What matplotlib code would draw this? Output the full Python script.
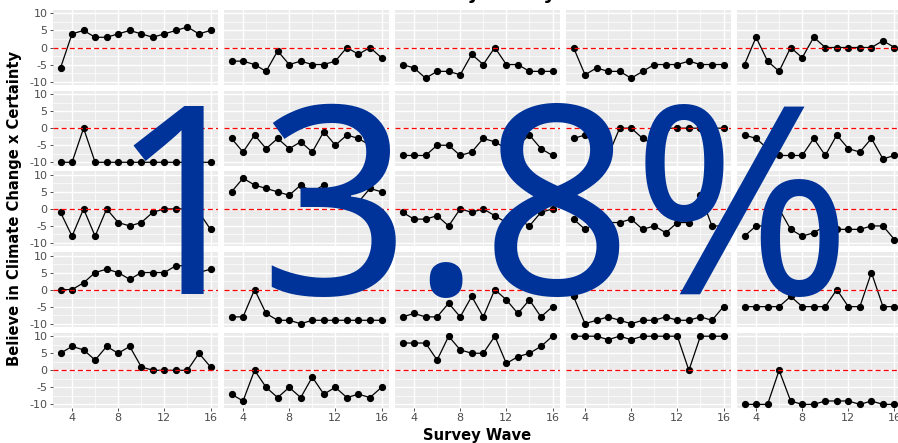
import matplotlib.pyplot as plt
from matplotlib import font_manager as fm
from matplotlib.ticker import MultipleLocator

plt.rcParams['font.family'] = ['DejaVu Sans']
plt.rcParams['axes.unicode_minus'] = False


def pick_font(names):
    # first family that is really installed
    for n in names:
        try:
            fm.findfont(fm.FontProperties(family=n), fallback_to_default=False)
            return n
        except ValueError:
            pass
    return 'DejaVu Sans'


# the local Liberation Sans draws "1" with a foot, Noto Sans does not
big_font = pick_font(['Noto Sans', 'Open Sans', 'Roboto', 'DejaVu Sans'])

# survey waves on the x axis
waves = list(range(3, 17))

# one list per subject, facet order: left to right, top to bottom
s01 = [-6, 4, 5, 3, 3, 4, 5, 4, 3, 4, 5, 6, 4, 5]
s02 = [-4, -4, -5, -7, -1, -5, -4, -5, -5, -4, 0, -2, 0, -3]
s03 = [-5, -6, -9, -7, -7, -8, -2, -5, 0, -5, -5, -7, -7, -7]
s04 = [0, -8, -6, -7, -7, -9, -7, -5, -5, -5, -4, -5, -5, -5]
s05 = [-5, 3, -4, -7, 0, -3, 3, 0, 0, 0, 0, 0, 2, 0]
s06 = [-10, -10, 0, -10, -10, -10, -10, -10, -10, -10, -10, -10, -10, -10]
s07 = [-3, -7, -2, -6, -3, -6, -4, -7, -1, -5, -2, -3, -5, -2]
s08 = [-8, -8, -8, -5, -5, -8, -7, -3, -4, -6, -5, -2, -6, -8]
s09 = [-3, -2, 0, -8, 0, 0, -3, -5, 0, 0, 0, 0, 0, 0]
s10 = [-2, -3, -6, -8, -8, -8, -3, -8, -2, -6, -7, -3, -9, -8]
s11 = [-1, -8, 0, -8, 0, -4, -5, -4, -1, 0, 0, 0, -1, -6]
s12 = [5, 9, 7, 6, 5, 4, 7, 5, 7, 3, 2, 2, 6, 5]
s13 = [-1, -3, -3, -2, -5, 0, -1, 0, -2, -4, -3, -5, -1, 0]
s14 = [-3, -6, -4, -4, -4, -3, -6, -5, -7, -4, -4, 4, -5, -5]
s15 = [-8, -5, -5, 0, -6, -8, -7, -5, -6, -6, -6, -5, -5, -9]
s16 = [0, 0, 2, 5, 6, 5, 3, 5, 5, 5, 7, 7, 5, 6]
s17 = [-8, -8, 0, -7, -9, -9, -10, -9, -9, -9, -9, -9, -9, -9]
s18 = [-8, -7, -8, -8, -4, -8, -2, -8, 0, -3, -7, -3, -8, -5]
s19 = [-2, -10, -9, -8, -9, -10, -9, -9, -8, -9, -9, -8, -9, -5]
s20 = [-5, -5, -5, -5, -2, -5, -5, -5, 0, -5, -5, 5, -5, -5]
s21 = [5, 7, 6, 3, 7, 5, 7, 1, 0, 0, 0, 0, 5, 1]
s22 = [-7, -9, 0, -5, -8, -5, -8, -2, -7, -5, -8, -7, -8, -5]
s23 = [8, 8, 8, 3, 10, 6, 5, 5, 10, 2, 4, 5, 7, 10]
s24 = [10, 10, 10, 9, 10, 9, 10, 10, 10, 10, 0, 10, 10, 10]
s25 = [-10, -10, -10, 0, -9, -10, -10, -9, -9, -9, -10, -9, -10, -10]

subjects = [s01, s02, s03, s04, s05, s06, s07, s08, s09, s10,
            s11, s12, s13, s14, s15, s16, s17, s18, s19, s20,
            s21, s22, s23, s24, s25]

overlay_text = '13.8%'

W, H = 898, 443
fig = plt.figure(figsize=(W / 100, H / 100), dpi=100)

# panel geometry in pixels (the right column runs past the image edge)
left0, top0 = 53, 10
pw, ph = 165, 75
dx, dy = 171, 80.7

for k, vals in enumerate(subjects):
    r, c = divmod(k, 5)
    x0 = left0 + c * dx
    y0 = top0 + r * dy
    ax = fig.add_axes([x0 / W, 1 - (y0 + ph) / H, pw / W, ph / H])
    ax.set_facecolor('#EBEBEB')
    for s in ax.spines.values():
        s.set_visible(False)
    ax.set_xlim(2.35, 16.65)
    ax.set_ylim(-11, 11)
    ax.xaxis.set_major_locator(MultipleLocator(4))
    ax.xaxis.set_minor_locator(MultipleLocator(2))
    ax.yaxis.set_major_locator(MultipleLocator(5))
    ax.yaxis.set_minor_locator(MultipleLocator(2.5))
    ax.grid(which='major', color='white', lw=1.0)
    ax.grid(which='minor', color='white', lw=0.5)
    ax.set_axisbelow(True)
    ax.tick_params(which='minor', length=0)
    ax.tick_params(which='major', length=2.5, width=0.6, color='#333333',
                   labelsize=8, labelcolor='#4D4D4D', pad=1.5)
    if c != 0:
        ax.tick_params(axis='y', which='major', length=0, labelleft=False)
    if r != 4:
        ax.tick_params(axis='x', which='major', length=0, labelbottom=False)

    ax.plot(waves, vals, color='black', lw=0.9, marker='o', ms=4.2, zorder=3)
    ax.axhline(0, color='red', lw=0.9, ls=(0, (4, 2.5)), zorder=4)

fig.text(477 / W, 1 - 440 / H, 'Survey Wave', ha='center', va='baseline',
         fontsize=10.6, fontweight='bold')
fig.text(15 / W, 1 - 208 / H, 'Believe in Climate Change x Certainty',
         ha='center', va='center', rotation=90, fontsize=10.6,
         fontweight='bold')
fig.text(477 / W, 1 + 1 / H, 'Random Subjects by Wave', ha='center',
         va='baseline', fontsize=14, fontweight='bold')

fig.text(481 / W, 1 - 294 / H, overlay_text, ha='center', va='baseline',
         fontsize=190, color='#003399', family=big_font, zorder=10)

fig.savefig('out.png', dpi=100)
